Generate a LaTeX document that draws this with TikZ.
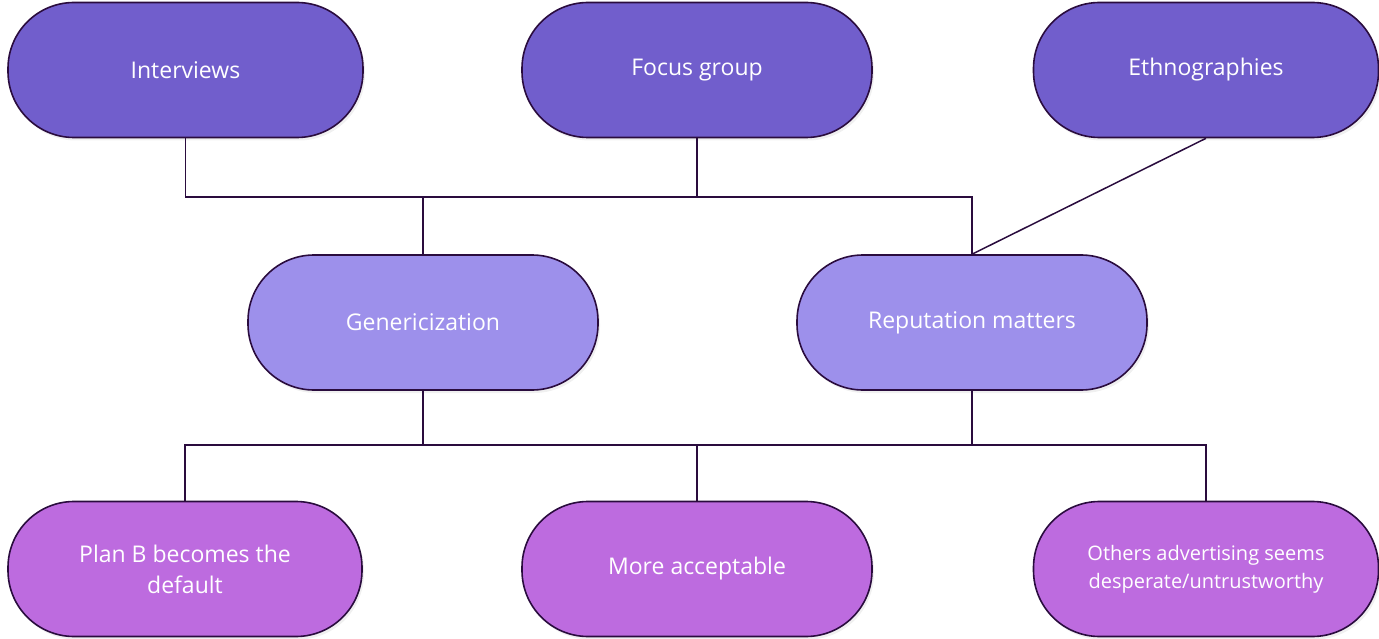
\documentclass[tikz,border=0pt]{standalone}
\usepackage{fontspec}
\setmainfont{Open Sans}
\usetikzlibrary{shadows}
\definecolor{topviolet}{RGB}{113,94,204}
\definecolor{midviolet}{RGB}{157,144,235}
\definecolor{lowviolet}{RGB}{189,107,223}
\definecolor{edgeplum}{RGB}{42,12,62}

\begin{document}
\begin{tikzpicture}[x=1pt,y=-1pt,
    pill/.style={draw=edgeplum,line width=1.6pt,rounded corners=66pt,
      minimum width=350pt,minimum height=135pt,align=center,text=white,
      font=\fontsize{23}{31}\selectfont,
      drop shadow={opacity=0.12,shadow xshift=2pt,shadow yshift=-3pt}},
    link/.style={draw=edgeplum,line width=1.5pt}]
  \useasboundingbox (0,0) rectangle (1379,639);
  % sources
  \node[pill,fill=topviolet,minimum width=355pt] (interviews) at (185.5,70) {Interviews};
  \node[pill,fill=topviolet] (focus) at (697,70) {Focus group};
  \node[pill,fill=topviolet,minimum width=345pt] (ethno) at (1206,70) {Ethnographies};
  % themes
  \node[pill,fill=midviolet] (generic) at (423,322.5) {Genericization};
  \node[pill,fill=midviolet] (reput) at (972,322.5) {Reputation matters};
  % outcomes
  \node[pill,fill=lowviolet,minimum width=354pt] (planb) at (185,569) {Plan B becomes the\\default};
  \node[pill,fill=lowviolet] (accept) at (697,569) {More acceptable};
  \node[pill,fill=lowviolet,minimum width=345pt,font=\fontsize{20}{28}\selectfont] (others) at (1206,569)
    {Others advertising seems\\desperate/untrustworthy};
  % upper bus
  \coordinate (hubA) at (972,197);
  \draw[link] (interviews.south) |- (hubA) -- (reput.north);
  \draw[link] (focus.south) -- (focus.south |- hubA);
  \draw[link] (generic.north) -- (generic.north |- hubA);
  \draw[link] (ethno.south) -- (reput.north);
  % lower bus
  \coordinate (hubB) at (1206,445);
  \draw[link] (planb.north) |- (hubB) -- (others.north);
  \draw[link] (generic.south) -- (generic.south |- hubB);
  \draw[link] (reput.south) -- (reput.south |- hubB);
  \draw[link] (accept.north) -- (accept.north |- hubB);
\end{tikzpicture}
\end{document}
